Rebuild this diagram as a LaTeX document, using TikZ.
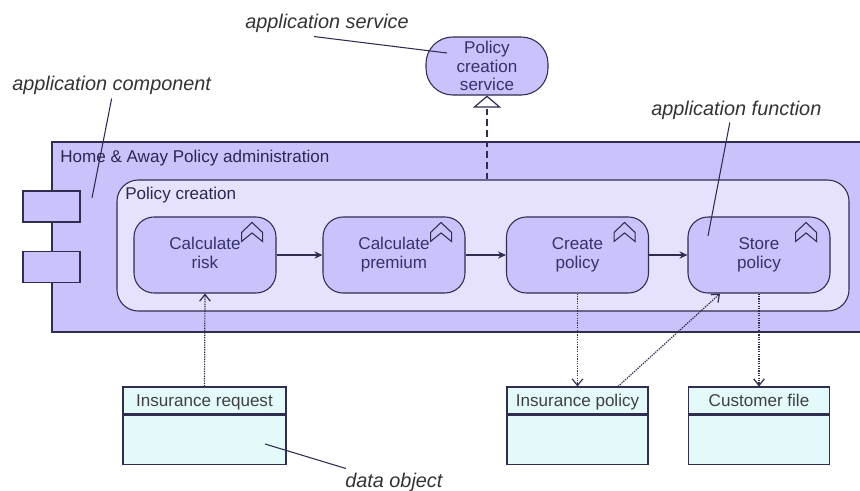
\documentclass[tikz,border=0pt]{standalone}
\usepackage{fontspec}
\setmainfont{Liberation Sans}
\usetikzlibrary{positioning, arrows, arrows.meta}
\definecolor{appfill}{HTML}{C9C2FB}
\definecolor{funcfill}{HTML}{E6E2FD}
\definecolor{datafill}{HTML}{E3F9FA}
\definecolor{edgeline}{HTML}{2F2D50}
\definecolor{apptext}{HTML}{35326E}
\definecolor{titletext}{HTML}{2A2850}
\tikzstyle{arrow} = [thick,-{Stealth[length=6pt,width=5.5pt]},edgeline]
\tikzstyle{access} = [line width=0.9pt,dash pattern=on 1pt off 0.8pt,-{Straight Barb[length=5pt,width=8pt]},edgeline]
\tikzstyle{note} = [line width=0.8pt,edgeline]
\tikzset{
  every node/.style = {font=\fontsize{12.8}{13.9}\selectfont, inner sep=0pt},
  appbox/.style = {rectangle,draw=edgeline,line width=0.8pt,fill=appfill},
  funcbox/.style = {appbox,rounded corners=15pt,minimum width=106.5pt,minimum height=57pt,align=center,text=apptext,text height=22.9pt,text depth=3pt},
  tabbox/.style = {appbox,minimum width=42.75pt,minimum height=23.25pt},
  headbox/.style = {rectangle,draw=edgeline,line width=0.8pt,fill=datafill,minimum height=20.25pt,text=black!75,text height=11.5pt,text depth=3pt},
  bodybox/.style = {rectangle,draw=edgeline,line width=0.8pt,fill=datafill,minimum height=36.75pt},
  notetext/.style = {font=\fontsize{14.9}{17}\selectfont\itshape,text=black!80},
  pics/chevron/.style = {code = {
    \draw[edgeline,line width=0.8pt,line join=miter] (-35,16) -- (-24.5,6) -- (-14,16)
        -- (-14,25) -- (-24.5,16.5) -- (-35,25) -- cycle;}}
}
\begin{document}
\begin{tikzpicture}[x=0.75pt,y=-0.75pt]
\useasboundingbox (0,0) rectangle (860,490);
\clip (0,0) rectangle (860,490);

% application component
\node (homeaway) [appbox,minimum width=609pt,minimum height=142.5pt] at (458,237) {};
\node (tabone) [tabbox] at (51.5,206.5) {};
\node (tabtwo) [tabbox] at (51.5,267) {};
\node (homeawaytitle) [anchor=west,text=titletext] at (60,158) {Home \& Away Policy administration};

% application function
\node (creation) [appbox,fill=funcfill,rounded corners=16pt,minimum width=549pt,minimum height=98.25pt] at (483,245.5) {};
\node (creationtitle) [anchor=west,text=titletext] at (125,195) {Policy creation};

\node (risk) [funcbox] at (205,255) {Calculate\\ risk};
\node (premium) [funcbox] at (394,255) {Calculate\\ premium};
\node (create) [funcbox] at (577.5,255) {Create\\ policy};
\node (store) [funcbox] at (759,255) {Store\\ policy};

\pic at (risk.north east) {chevron};
\pic at (premium.north east) {chevron};
\pic at (create.north east) {chevron};
\pic at (store.north east) {chevron};

% application service
\node (service) [appbox,rounded corners=20pt,minimum width=91.5pt,minimum height=43.5pt,align=center,text=apptext] at (487,66) {Policy\\ creation\\ service};

% data objects
\node (requesthead) [headbox,minimum width=122.25pt] at (204.5,400.5) {Insurance request};
\node (requestbody) [bodybox,minimum width=122.25pt,below=0pt of requesthead] {};
\node (policyhead) [headbox,minimum width=105.75pt] at (577.5,400.5) {Insurance policy};
\node (policybody) [bodybox,minimum width=105.75pt,below=0pt of policyhead] {};
\node (filehead) [headbox,minimum width=105.75pt] at (759,400.5) {Customer file};
\node (filebody) [bodybox,minimum width=105.75pt,below=0pt of filehead] {};

% relations
\draw [arrow] (risk) -- (premium);
\draw [arrow] (premium) -- (create);
\draw [arrow] (create) -- (store);
\draw [access] (requesthead.north) -- (risk.south);
\draw [access] (create.south) -- (policyhead.north);
\draw [access] (store.south) -- (filehead.north);
\draw [access] ([xshift=30.4pt]policyhead.north) -- ([xshift=-29.2pt]store.south);
\draw [line width=1.5pt,dash pattern=on 5pt off 3pt,edgeline,-{Triangle[open,length=9pt,width=21pt,fill=white,line width=0.9pt]}] (service.south |- creation.north) -- (service.south);

% labels
\node (servicelabel) [notetext,anchor=west] at (245,23) {application service};
\node (componentlabel) [notetext,anchor=west] at (12,85) {application component};
\node (functionlabel) [notetext,anchor=west] at (651,110) {application function};
\node (objectlabel) [notetext,anchor=west] at (345,482) {data object};

\coordinate (serviceend) at (447,53);
\coordinate (componentend) at (92,198);
\coordinate (functionend) at (708,236);
\coordinate (objectend) at (265,444);

\draw [note] ([shift={(-13,4)}]servicelabel.south) -- (serviceend);
\draw [note] ([shift={(0,4)}]componentlabel.south) -- (componentend);
\draw [note] ([shift={(-6.5,3)}]functionlabel.south) -- (functionend);
\draw [note] ([shift={(-48,-4)}]objectlabel.north) -- (objectend);
\end{tikzpicture}
\end{document}
